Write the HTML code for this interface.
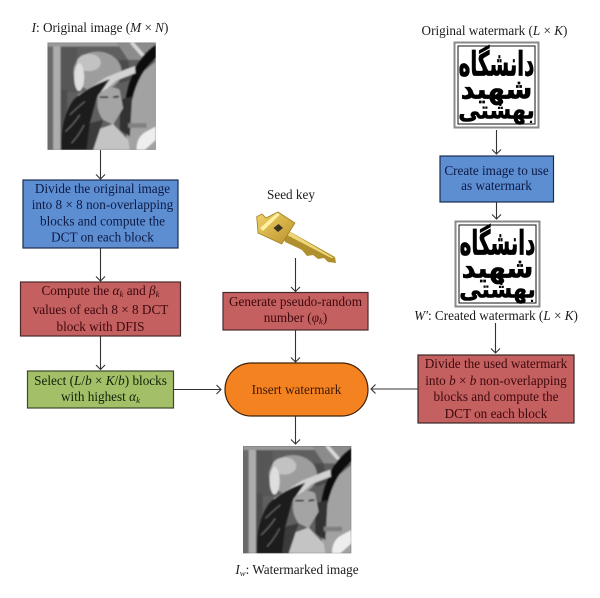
<!DOCTYPE html>
<html><head><meta charset="utf-8"><style>
html,body{margin:0;padding:0;background:#fff}
svg{display:block}
text{font-family:"Liberation Serif",serif;font-size:13.2px;text-anchor:middle}
.b{fill:#0c1a44}.r{fill:#3e080e}.g{fill:#102208}.k{fill:#1c1c1c}
.i{font-style:italic}.s{font-size:8.8px;font-style:italic}
.w{font-family:"DejaVu Sans",sans-serif;font-weight:bold;fill:#000;stroke:#000;stroke-width:0.5px}
</style></head><body>
<svg width="600" height="598" viewBox="0 0 600 598" xmlns="http://www.w3.org/2000/svg">
<defs>
<filter id="bl" x="-10%" y="-10%" width="120%" height="120%"><feGaussianBlur stdDeviation="2"/></filter>
<filter id="bs" x="-10%" y="-10%" width="120%" height="120%"><feGaussianBlur stdDeviation="0.3"/></filter>
<clipPath id="lc"><rect x="8" y="8" width="325" height="322"/></clipPath>
<linearGradient id="kg" x1="0" y1="0" x2="1" y2="1"><stop offset="0" stop-color="#f2d467"/><stop offset="1" stop-color="#b98f2a"/></linearGradient>
<g id="lena"><g clip-path="url(#lc)"><rect x="8" y="8" width="325" height="322" fill="#5f5f5f"/>
<g filter="url(#bl)">
<rect x="8" y="8" width="18" height="322" fill="#6a6a6a"/>
<rect x="25" y="8" width="22" height="322" fill="#adadad"/>
<rect x="47" y="8" width="50" height="150" fill="#565656"/>
<rect x="47" y="150" width="20" height="180" fill="#4e4e4e"/>
<rect x="8" y="8" width="325" height="12" fill="#9a9a9a"/>
<polygon points="215,8 333,8 333,60 250,60" fill="#8c8c8c"/>
<polygon points="265,5 300,45 290,50 255,10" fill="#d8d8d8"/>
<polygon points="265,120 333,65 333,330 240,330" fill="#a2a2a2"/>
<polygon points="220,60 250,60 260,120 225,130" fill="#4c4c4c"/>
<path d="M333,14 Q262,60 242,180 L262,180 Q282,95 333,55Z" fill="#0c0c0c"/>
<polygon points="225,180 262,170 255,290 225,270" fill="#303030"/>
<ellipse cx="158" cy="95" rx="72" ry="60" fill="#9d9d9d"/>
<ellipse cx="132" cy="68" rx="36" ry="26" fill="#c2c2c2"/>
<ellipse cx="103" cy="112" rx="15" ry="42" fill="#dedede"/>
<path d="M100,165 L185,112 L270,78 L272,100 L215,122 L165,165 L110,200Z" fill="#d2d2d2"/>
<path d="M50,330 Q45,235 88,178 Q130,140 195,118 L155,175 L135,250 L155,330Z" fill="#1e1e1e"/>
<path d="M75,225 Q95,205 120,185 M62,275 Q85,255 105,225 M80,310 Q100,290 118,255" stroke="#6a6a6a" stroke-width="3" fill="none"/>
<path d="M160,165 Q195,130 225,150 L235,205 L205,255 L175,240 Q150,210 160,165Z" fill="#a4a4a4"/>
<path d="M165,172 L190,172 M205,172 L222,170" stroke="#222" stroke-width="5"/>
<polygon points="150,272 205,252 250,300 255,330 145,330" fill="#c4c4c4"/>
<polygon points="135,250 175,240 165,270 145,330 125,330" fill="#3a3a3a"/>
<path d="M275,330 Q275,290 305,275 L333,260 L333,300 L300,330Z" fill="#eee"/>
<rect x="250" y="250" width="55" height="14" fill="#808080"/>
</g></g></g>
<g id="wm">
<rect x="1" y="1" width="84" height="85" fill="#fff" stroke="#8a8a8a" stroke-width="2"/>
<rect x="4.500" y="4.500" width="77" height="78" fill="#fff" stroke="#111" stroke-width="1"/>
<g filter="url(#bs)">
<text class="w" direction="rtl" transform="translate(43,34) scale(0.95,1.6)" style="font-size:21px">دانشگاه</text>
<text class="w" direction="rtl" transform="translate(43,57) scale(1.3,1.3)" style="font-size:21px">شهید</text>
<text class="w" direction="rtl" transform="translate(43,77) scale(1.05,1.15)" style="font-size:21px">بهشتی</text>
</g></g>
</defs>

<rect width="600" height="598" fill="#fff"/>

<!-- images -->
<use href="#lena" transform="translate(47.5,42.5) scale(0.3333) translate(-8,-8)"/>
<use href="#lena" transform="translate(243,446) scale(0.3333) translate(-8,-8)"/>
<use href="#wm" transform="translate(453.5,41.5)"/>
<use href="#wm" transform="translate(454.5,220.5)"/>

<!-- key -->
<g filter="url(#bs)">
<path d="M280,226 L335,257 L336,263 L328,262 L324,258 L318,259 L313,255 L307,256 L302,250 L298,248 L285,242Z" fill="#b08f2e"/>
<path d="M285,229 L334,258 L331,258 L285,234Z" fill="#eed577"/>
<polygon points="256.700,216.700 262,214 266,218 278,212 295,223 281.700,244 258,233" fill="url(#kg)" stroke="#a27e22" stroke-width="0.8"/>
<polygon points="260,228 277,213 280,214.500 263,231" fill="#fff0a2"/>
<polygon points="273.500,228 278.500,224 283,228 278,232" fill="#3b3320"/>
</g>

<!-- boxes -->
<g stroke-width="1.2">
<rect x="23" y="180" width="155" height="68" fill="#5e8ed2" stroke="#1c2c50"/>
<rect x="20.500" y="282" width="160" height="54" fill="#c4605f" stroke="#4a2a28"/>
<rect x="27.500" y="371" width="146" height="37" fill="#a3bf68" stroke="#3c4a2a"/>
<rect x="223" y="292.500" width="145" height="37.500" fill="#c4605f" stroke="#4a2a28"/>
<rect x="225" y="363" width="143" height="53" rx="26.500" fill="#f58220" stroke="#3f2208"/>
<rect x="440" y="156" width="113.500" height="46" fill="#5e8ed2" stroke="#1c2c50"/>
<rect x="418" y="355" width="156" height="68" fill="#c4605f" stroke="#3a2524"/>
</g>

<!-- arrows -->
<g stroke="#333" stroke-width="1.1" fill="none">
<path d="M100.500,150V179M96,174.500L100.500,179L105,174.500"/>
<path d="M100.500,248V281M96,276.500L100.500,281L105,276.500"/>
<path d="M100.500,336V369.500M96,365L100.500,369.500L105,365"/>
<path d="M173,389.500H221M216.500,385L221,389.500L216.500,394"/>
<path d="M295.500,258V291.500M291,287L295.500,291.500L300,287"/>
<path d="M295.500,330V362M291,357.500L295.500,362L300,357.500"/>
<path d="M295.500,416V444M291,439.500L295.500,444L300,439.500"/>
<path d="M496.500,130V154M492,149.500L496.500,154L501,149.500"/>
<path d="M496.500,202V219M492,214.500L496.500,219L501,214.500"/>
<path d="M495.500,323V353M491,348.500L495.500,353L500,348.500"/>
<path d="M418,389H371M375.500,384.500L371,389L375.500,393.500"/>
</g>

<!-- labels -->
<text class="k" x="100" y="32"><tspan class="i">I</tspan>: Original image (<tspan class="i">M</tspan> × <tspan class="i">N</tspan>)</text>
<text class="k" x="494.500" y="35">Original watermark (<tspan class="i">L</tspan> × <tspan class="i">K</tspan>)</text>
<text class="k" x="291" y="199">Seed key</text>
<text class="k" x="496" y="320"><tspan class="i">W′</tspan>: Created watermark (<tspan class="i">L</tspan> × <tspan class="i">K</tspan>)</text>
<text class="k" x="297" y="574"><tspan class="i">I</tspan><tspan class="s" dy="2">w</tspan><tspan dy="-2">: Watermarked image</tspan></text>

<text class="b" x="102.500" y="193">Divide the original image</text>
<text class="b" x="102.500" y="209">into 8 × 8 non-overlapping</text>
<text class="b" x="102.500" y="225.500">blocks and compute the</text>
<text class="b" x="102.500" y="241.500">DCT on each block</text>

<text class="r" x="100.500" y="295">Compute the <tspan class="i">α</tspan><tspan class="s" dy="2">k</tspan><tspan dy="-2"> and </tspan><tspan class="i">β</tspan><tspan class="s" dy="2">k</tspan></text>
<text class="r" x="100.500" y="314">values of each 8 × 8 DCT</text>
<text class="r" x="100.500" y="331">block with DFIS</text>

<text class="g" x="100.500" y="385">Select (<tspan class="i">L</tspan>/<tspan class="i">b</tspan> × <tspan class="i">K</tspan>/<tspan class="i">b</tspan>) blocks</text>
<text class="g" x="100.500" y="401">with highest <tspan class="i">α</tspan><tspan class="s" dy="2">k</tspan></text>

<text class="r" x="295.500" y="306">Generate pseudo-random</text>
<text class="r" x="295.500" y="322">number (<tspan class="i">φ</tspan><tspan class="s" dy="2">k</tspan><tspan dy="-2">)</tspan></text>

<text x="296.500" y="394" fill="#3c1a06">Insert watermark</text>

<text class="b" x="496.500" y="175">Create image to use</text>
<text class="b" x="496.500" y="190">as watermark</text>

<text class="r" x="496" y="368">Divide the used watermark</text>
<text class="r" x="496" y="385">into <tspan class="i">b</tspan> × <tspan class="i">b</tspan> non-overlapping</text>
<text class="r" x="496" y="401">blocks and compute the</text>
<text class="r" x="496" y="418">DCT on each block</text>
</svg>
</body></html>
